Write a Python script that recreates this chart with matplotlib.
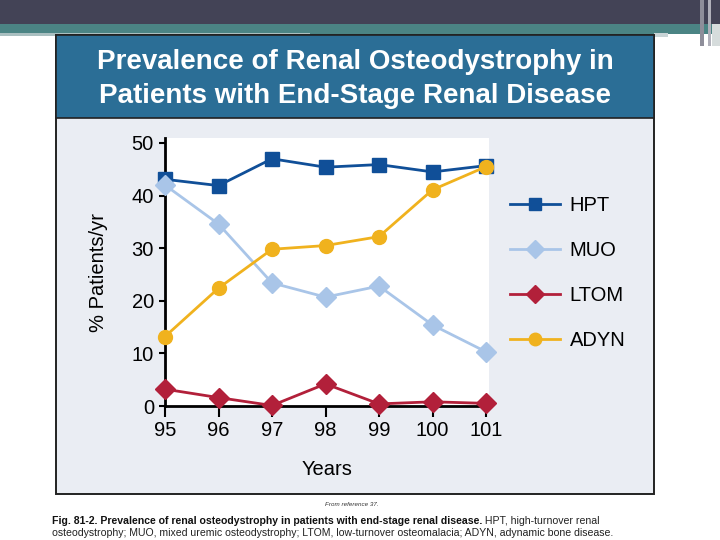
import matplotlib
matplotlib.use("Agg")
import matplotlib.pyplot as plt
from matplotlib.patches import Rectangle
from matplotlib.lines import Line2D

plt.rcParams['font.family'] = ['Liberation Sans', 'DejaVu Sans']

years = [95, 96, 97, 98, 99, 100, 101]
hpt = [43.1, 41.9, 47.0, 45.4, 45.9, 44.5, 45.7]
muo = [42.0, 34.6, 23.4, 20.7, 22.8, 15.4, 10.3]
ltom = [3.2, 1.6, 0.1, 4.2, 0.4, 0.8, 0.5]
adyn = [13.2, 22.4, 29.8, 30.5, 32.2, 41.1, 45.5]
series_names = ["HPT", "MUO", "LTOM", "ADYN"]

W, H = 720, 540
fig = plt.figure(figsize=(W / 100, H / 100), dpi=100)
fig.patch.set_facecolor("white")

# background axes in pixel coords for slide decoration and the figure panel
bg = fig.add_axes([0, 0, 1, 1])
bg.set_xlim(0, W)
bg.set_ylim(H, 0)
bg.axis("off")

bg.add_patch(Rectangle((0, 0), 720, 24, color="#434356", lw=0))
bg.add_patch(Rectangle((0, 24), 720, 10, color="#4b8484", lw=0))
bg.add_patch(Rectangle((0, 33), 310, 3, color="#a9bfc0", lw=0))
bg.add_patch(Rectangle((654, 33), 14, 4, color="#c8d4d6", lw=0))
bg.add_patch(Rectangle((700, 0), 4, 46, color="#8e8e9a", lw=0))
bg.add_patch(Rectangle((708, 0), 3, 46, color="#b0b0ba", lw=0))
bg.add_patch(Rectangle((712, 24), 8, 22, color="#d6dcdc", lw=0))

# panel
bg.add_patch(Rectangle((56, 35), 598, 459, facecolor="#eaedf3",
                       edgecolor="#222222", lw=1.4))
bg.add_patch(Rectangle((56, 35), 598, 83, facecolor="#2b6e96",
                       edgecolor="#222222", lw=1.2))
bg.text(355, 62, "Prevalence of Renal Osteodystrophy in", color="white",
        fontsize=20, fontweight="bold", ha="center", va="center")
bg.text(355, 96, "Patients with End-Stage Renal Disease", color="white",
        fontsize=20, fontweight="bold", ha="center", va="center")

# caption
bg.text(352, 505, "From reference 37.", fontsize=4.5, style="italic",
        ha="center", va="center", color="#333333")
t1 = bg.text(52, 524, "Fig. 81-2. Prevalence of renal osteodystrophy in patients "
             "with end-stage renal disease.", fontsize=7.6, fontweight="bold",
             ha="left", va="baseline", color="#111111")
bg.annotate(" HPT, high-turnover renal", xy=(1, 0), xycoords=t1,
            fontsize=7.6, ha="left", va="bottom", color="#222222")
bg.text(52, 536, "osteodystrophy; MUO, mixed uremic osteodystrophy; LTOM, "
        "low-turnover osteomalacia; ADYN, adynamic bone disease.",
        fontsize=7.6, ha="left", va="baseline", color="#222222")

# main plot
left, right, top, bottom = 165, 489, 138, 406
ax = fig.add_axes([left / W, 1 - bottom / H, (right - left) / W, (bottom - top) / H])
ax.set_facecolor("white")

styles = [
    (hpt, "#104f98", "s", 10),
    (muo, "#a9c5e8", "D", 10),
    (ltom, "#b2203a", "D", 10),
    (adyn, "#f0b21e", "o", 10),
]
handles = []
for (vals, col, mk, ms), name in zip(styles, series_names):
    ax.plot(years, vals, color=col, marker=mk, markersize=ms, lw=2,
            clip_on=False, zorder=3)
    handles.append(Line2D([], [], color=col, marker=mk, markersize=9, lw=2))

ax.set_xlim(95, 101.056)
ax.set_ylim(0, 50.95)
ax.set_xticks(years)
ax.set_yticks([0, 10, 20, 30, 40, 50])
for s in ["top", "right"]:
    ax.spines[s].set_visible(False)
for s in ["left", "bottom"]:
    ax.spines[s].set_linewidth(2)
    ax.spines[s].set_color("black")
ax.tick_params(axis="x", direction="out", length=8, width=1.5, labelsize=14.5, pad=3)
ax.tick_params(axis="y", direction="out", length=4, width=1.5, labelsize=14.5, pad=4)
ax.set_xlabel("Years", fontsize=14.5, labelpad=14)
ax.set_ylabel("% Patients/yr", fontsize=14.5, labelpad=17)

leg = fig.legend(handles, series_names, loc="center left",
                 bbox_to_anchor=(492 / W, 1 - 273 / H), frameon=False,
                 fontsize=14.5, handlelength=2.5, labelspacing=1.28,
                 handletextpad=0.45)

fig.savefig("out.png", dpi=100)
